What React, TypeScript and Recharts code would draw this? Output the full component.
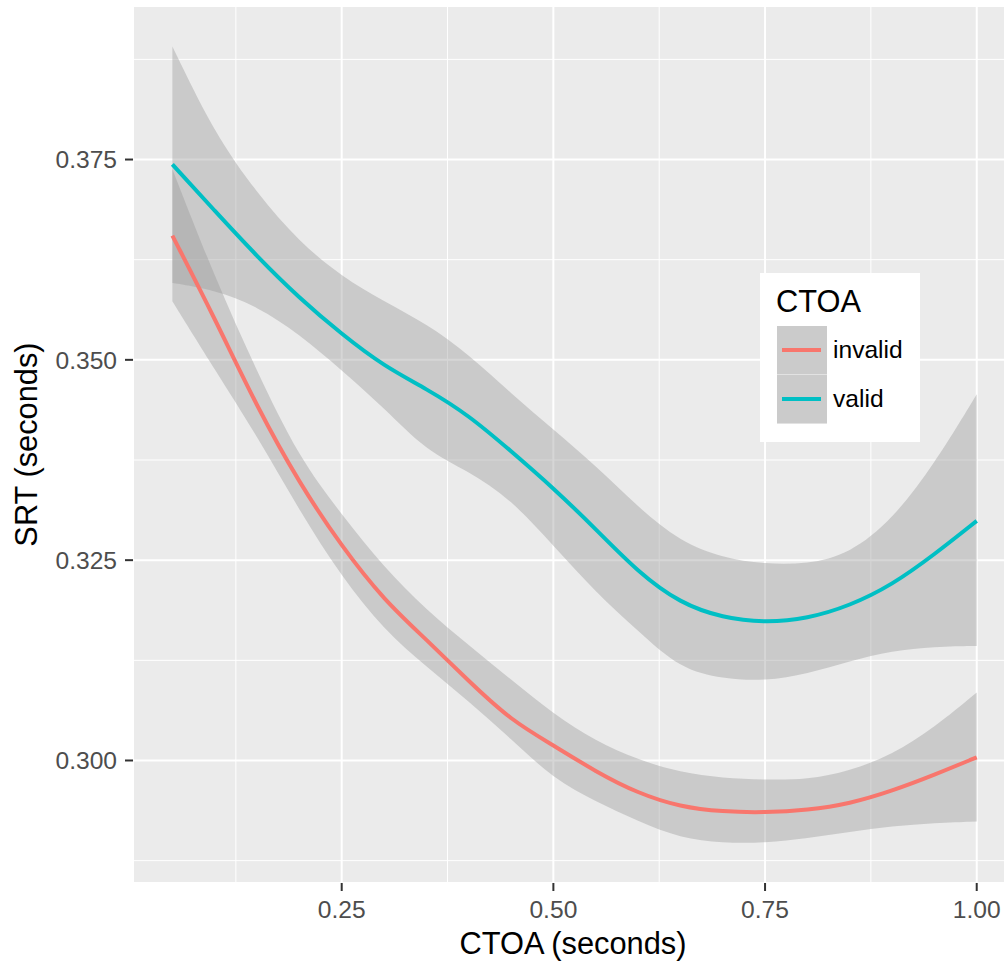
import React from 'react';
import { ComposedChart, Area, Line, XAxis, YAxis, CartesianGrid, Legend } from 'recharts';

const ctoa = [0.05, 0.1, 0.15, 0.2, 0.25, 0.3, 0.35, 0.4, 0.45, 0.5, 0.55, 0.6, 0.65, 0.7, 0.75, 0.8, 0.85, 0.9, 0.95, 1.0];

const invalidFit = [0.3655, 0.3552, 0.3441, 0.3346, 0.3267, 0.32, 0.3151, 0.3099, 0.305, 0.3019, 0.2986, 0.2959, 0.2942, 0.2936, 0.2935, 0.2938, 0.2946, 0.2962, 0.2982, 0.3004];
const invalidLo = [0.3573, 0.3488, 0.3405, 0.3312, 0.3229, 0.3163, 0.3117, 0.3074, 0.3027, 0.2977, 0.2949, 0.2924, 0.2903, 0.2897, 0.2897, 0.2903, 0.2911, 0.2918, 0.2922, 0.2924];
const invalidHi = [0.3738, 0.3603, 0.3485, 0.3377, 0.3307, 0.3241, 0.3188, 0.3144, 0.3101, 0.3058, 0.3024, 0.3001, 0.2985, 0.2978, 0.2976, 0.2976, 0.2987, 0.3007, 0.3041, 0.3085];

const validFit = [0.3744, 0.3686, 0.3629, 0.3577, 0.3532, 0.3492, 0.3464, 0.3431, 0.3386, 0.334, 0.3289, 0.3235, 0.3196, 0.3178, 0.3172, 0.3177, 0.3193, 0.3219, 0.3257, 0.3299];
const validLo = [0.3596, 0.3587, 0.3567, 0.3532, 0.3487, 0.344, 0.3386, 0.3361, 0.3326, 0.3268, 0.321, 0.3162, 0.3114, 0.3102, 0.3099, 0.3108, 0.3124, 0.3137, 0.3142, 0.3143];
const validHi = [0.3891, 0.3782, 0.3708, 0.3647, 0.3604, 0.3573, 0.3545, 0.3507, 0.3458, 0.3413, 0.3368, 0.3316, 0.3273, 0.3253, 0.3245, 0.3245, 0.3258, 0.33, 0.337, 0.3457];

const xTicks = [0.25, 0.5, 0.75, 1.0];
const xMinorTicks = [0.125, 0.375, 0.625, 0.875];
const yTicks = [0.3, 0.325, 0.35, 0.375];
const yMinorTicks = [0.2875, 0.3125, 0.3375, 0.3625, 0.3875];

const groups = [
  { key: 'invalid', label: 'invalid', color: '#F8766D' },
  { key: 'valid', label: 'valid', color: '#00BFC4' },
];

const data = ctoa.map((x, i) => ({
  x,
  invalid: invalidFit[i],
  invalidBand: [invalidLo[i], invalidHi[i]],
  valid: validFit[i],
  validBand: [validLo[i], validHi[i]],
}));

const xDomain = [0.0035, 1.0334];
const yDomain = [0.28471, 0.39416];
const font = '"Liberation Sans", Arial, sans-serif';

const LegendBox = () => (
  <div style={{ position: 'relative', width: 160, height: 169, background: '#fff', fontFamily: font, color: '#000' }}>
    <div style={{ position: 'absolute', left: 16, top: 14, fontSize: 30.8, lineHeight: 1 }}>CTOA</div>
    {groups.map((g, i) => (
      <div key={g.key} style={{ position: 'absolute', left: 17, top: 53 + i * 49, height: 49, display: 'flex', alignItems: 'center' }}>
        <div style={{ width: 50, height: 48, background: '#CBCBCB', position: 'relative', borderBottom: '1px solid #e2e2e2' }}>
          <div style={{ position: 'absolute', left: 5, right: 6, top: 22, height: 4, background: g.color }} />
        </div>
        <span style={{ marginLeft: 6, fontSize: 24.6, lineHeight: 1 }}>{g.label}</span>
      </div>
    ))}
  </div>
);

export default function App() {
  return (
    <div style={{ position: 'absolute', left: 0, top: 0 }}>
      <ComposedChart width={1005} height={962} data={data} margin={{ top: 6, right: 0, bottom: 0, left: 0 }}>
        <CartesianGrid stroke="#FFFFFF" strokeWidth={2} fill="#EBEBEB" />
        <CartesianGrid xAxisId="m" yAxisId="m" stroke="#FFFFFF" strokeWidth={1} />
        <XAxis
          dataKey="x"
          type="number"
          domain={xDomain}
          allowDataOverflow
          ticks={xTicks}
          interval={0}
          tickFormatter={(v: number) => v.toFixed(2)}
          tick={{ fill: '#4D4D4D', fontSize: 24.6, fontFamily: font }}
          tickLine={{ stroke: '#333333', strokeWidth: 2 }}
          axisLine={false}
          tickSize={8}
          tickMargin={10}
          height={79}
          label={{ value: 'CTOA (seconds)', position: 'insideBottom', offset: 8, dx: 4, fill: '#000', fontSize: 30.8, fontFamily: font }}
        />
        <YAxis
          type="number"
          domain={yDomain}
          allowDataOverflow
          ticks={yTicks}
          interval={0}
          tickFormatter={(v: number) => v.toFixed(3)}
          tick={{ fill: '#4D4D4D', fontSize: 24.6, fontFamily: font }}
          tickLine={{ stroke: '#333333', strokeWidth: 2 }}
          axisLine={false}
          tickSize={8}
          tickMargin={8}
          width={133}
          label={{ value: 'SRT (seconds)', angle: -90, position: 'insideLeft', offset: 26, fill: '#000', fontSize: 30.8, fontFamily: font, style: { textAnchor: 'middle' } }}
        />
        <XAxis xAxisId="m" dataKey="x" type="number" domain={xDomain} allowDataOverflow ticks={xMinorTicks} interval={0} hide />
        <YAxis yAxisId="m" type="number" domain={yDomain} allowDataOverflow ticks={yMinorTicks} interval={0} hide />
        {groups.map((g) => [
          <Area
            key={g.key + 'band'}
            type="basis"
            dataKey={g.key + 'Band'}
            stroke="none"
            fill="#999999"
            fillOpacity={0.4}
            activeDot={false}
            legendType="none"
            isAnimationActive={false}
          />,
          <Line
            key={g.key + 'line'}
            type="basis"
            dataKey={g.key}
            stroke={g.color}
            strokeWidth={4}
            dot={false}
            activeDot={false}
            isAnimationActive={false}
          />,
        ])}
        <Legend
          layout="vertical"
          align="center"
          verticalAlign="middle"
          content={() => <LegendBox />}
          wrapperStyle={{ left: 760, top: 273, width: 160, height: 169 }}
        />
      </ComposedChart>
    </div>
  );
}
